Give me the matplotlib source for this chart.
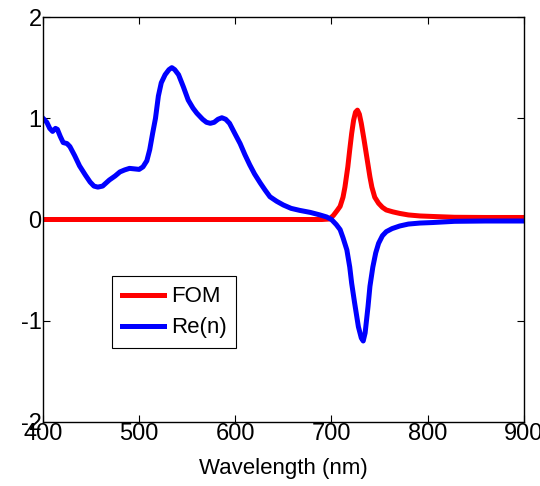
import numpy as np
import matplotlib
matplotlib.use('Agg')
from matplotlib import pyplot as plt

plt.rcParams['font.family'] = ['Liberation Sans', 'DejaVu Sans']
plt.rcParams['axes.unicode_minus'] = False

# Re(n) curve
wl_re = [400, 404, 407, 410, 413, 415, 418, 421, 425, 428, 433, 438, 444, 449,
         453, 457, 462, 469, 475, 480, 485, 490, 495, 500, 504, 508, 511, 514,
         517, 520, 523, 527, 531, 534, 537, 541, 546, 551, 556, 560, 566, 570,
         574, 578, 582, 586, 590, 594, 600, 605, 610, 615, 620, 626, 631, 636,
         643, 650, 658, 667, 678, 688, 695, 700, 705, 709, 712, 716, 719, 721,
         724, 728, 731, 733, 735, 738, 740, 743, 746, 749, 753, 757, 763, 771,
         780, 792, 805, 828, 860, 900]
re_n = [1.00, 0.96, 0.90, 0.87, 0.90, 0.89, 0.82, 0.76, 0.75, 0.72, 0.63, 0.53,
        0.44, 0.37, 0.33, 0.32, 0.33, 0.39, 0.43, 0.47, 0.49, 0.505, 0.50,
        0.495, 0.52, 0.58, 0.69, 0.85, 1.00, 1.22, 1.35, 1.43, 1.48, 1.50,
        1.48, 1.43, 1.31, 1.18, 1.10, 1.05, 0.99, 0.96, 0.95, 0.96, 0.99,
        1.005, 0.99, 0.95, 0.84, 0.75, 0.64, 0.54, 0.45, 0.36, 0.29, 0.225,
        0.18, 0.143, 0.11, 0.09, 0.07, 0.045, 0.025, 0.0, -0.05, -0.10, -0.18,
        -0.30, -0.47, -0.63, -0.82, -1.06, -1.17, -1.20, -1.12, -0.86, -0.66,
        -0.47, -0.33, -0.235, -0.16, -0.12, -0.09, -0.064, -0.045, -0.035,
        -0.03, -0.018, -0.015, -0.015]

# FOM curve
wl_fom = [400, 690, 698, 702, 706, 709, 712, 714, 717, 719, 721, 723, 725, 727,
          729, 731, 734, 737, 740, 742, 745, 749, 753, 757, 764, 771, 780, 792,
          805, 828, 860, 900]
fom = [0.0, 0.0, 0.005, 0.04, 0.09, 0.13, 0.22, 0.32, 0.52, 0.69, 0.85, 0.98,
       1.06, 1.08, 1.04, 0.95, 0.78, 0.60, 0.42, 0.32, 0.22, 0.16, 0.12, 0.094,
       0.075, 0.06, 0.045, 0.035, 0.03, 0.022, 0.02, 0.02]

fig = plt.figure(figsize=(5.4, 4.86), dpi=100)
ax = fig.add_axes([0.0796, 0.1317, 0.8904, 0.8333])

ax.plot(wl_fom, fom, color='#ff0000', lw=3.6, label='FOM')
ax.plot(wl_re, re_n, color='#0000ff', lw=3.6, label='Re(n)')

ax.set_xlim(400, 900)
ax.set_ylim(-2, 2)
ax.set_xticks([400, 500, 600, 700, 800, 900])
ax.set_yticks([-2, -1, 0, 1, 2])
ax.tick_params(direction='in', top=True, right=True, labelsize=17, length=5,
               pad=1, width=0.8)
for s in ax.spines.values():
    s.set_linewidth(1.0)
ax.set_xlabel('Wavelength (nm)', fontsize=16, labelpad=9)

leg = ax.legend(loc='lower left', bbox_to_anchor=(0.143, 0.182), fontsize=16,
                frameon=True, fancybox=False, framealpha=1, edgecolor='black',
                handlelength=1.9, borderpad=0.45, labelspacing=0.45,
                handletextpad=0.3, borderaxespad=0)
leg.get_frame().set_linewidth(0.8)

fig.savefig('out.png', dpi=100)
